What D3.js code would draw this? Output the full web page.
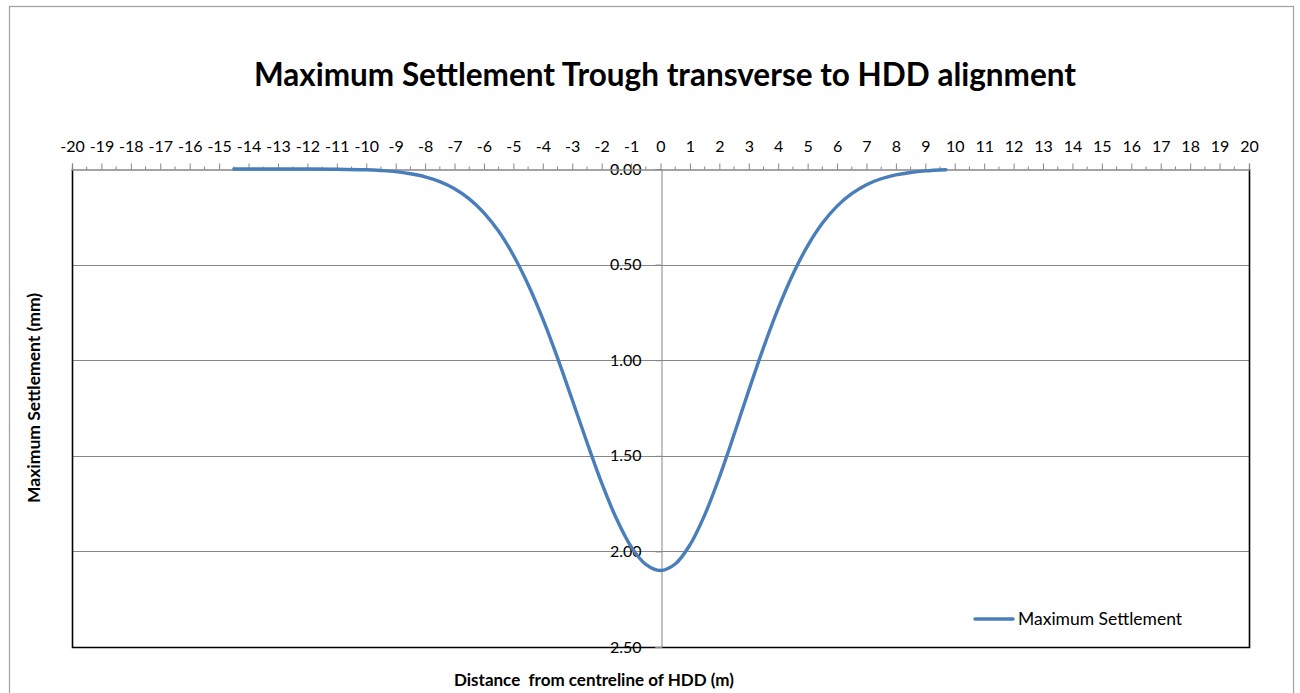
<!DOCTYPE html>
<html>
<head>
<meta charset="utf-8">
<script src="https://cdn.jsdelivr.net/npm/d3@7"></script>
<style>
  html, body { margin: 0; padding: 0; background: #ffffff; }
  svg { display: block; }
  text { font-family: Lato, "Open Sans", sans-serif; fill: #000; }
</style>
</head>
<body>
<svg id="chart" width="1300" height="693"></svg>
<script>
// ---- data ----
const distance = [-14.5, -13, -12, -11, -10, -9.5, -9, -8.5, -8, -7.5, -7, -6.5, -6, -5.5, -5, -4.5, -4, -3.5, -3, -2.5, -2, -1.5, -1, -0.5,
                  0, 0.5, 1, 1.5, 2, 2.5, 3, 3.5, 4, 4.5, 5, 5.5, 6, 6.5, 7, 7.5, 8, 8.5, 9, 9.7];
const settlement = [0.000, 0.000, 0.000, 0.001, 0.004, 0.008, 0.014, 0.025, 0.041, 0.066, 0.103, 0.156, 0.229, 0.326, 0.451, 0.604, 0.784, 0.988, 1.207, 1.429, 1.642, 1.828, 1.975, 2.068,
                    2.100, 2.066, 1.966, 1.810, 1.612, 1.389, 1.158, 0.934, 0.729, 0.550, 0.402, 0.284, 0.194, 0.129, 0.082, 0.051, 0.031, 0.018, 0.010, 0.004];
const xTicks = d3.range(-20, 21, 1);
const xMinorTicks = d3.range(-19.5, 20, 1);
const yTicks = [0, 0.5, 1.0, 1.5, 2.0, 2.5];
const seriesName = "Maximum Settlement";
const titleText = "Maximum Settlement Trough transverse to HDD alignment";
const xTitle = "Distance  from centreline of HDD (m)";
const yTitle = "Maximum Settlement (mm)";

const svg = d3.select("#chart");

// outer chart border
svg.append("rect")
  .attr("x", 9.5).attr("y", 6.5).attr("width", 1284).attr("height", 700)
  .attr("fill", "#fff").attr("stroke", "#a6a6a6").attr("stroke-width", 1.3);

const plot = { left: 72, right: 1249, top: 169, bottom: 647 };

const x = d3.scaleLinear().domain([-20, 20]).range([plot.left, plot.right]);
const y = d3.scaleLinear().domain([0, 2.5]).range([plot.top, plot.bottom]);

// title
svg.append("text")
  .attr("x", 665).attr("y", 86)
  .attr("text-anchor", "middle")
  .style("font-size", "31.5px").style("font-weight", "bold")
  .text(titleText);

// horizontal gridlines
svg.append("g").selectAll("line")
  .data(yTicks.filter(d => d > 0 && d < 2.5))
  .join("line")
  .attr("x1", plot.left).attr("x2", plot.right)
  .attr("y1", d => Math.round(y(d)) + 0.5).attr("y2", d => Math.round(y(d)) + 0.5)
  .attr("stroke", "#868686").attr("stroke-width", 1);

// plot area border (left, right, bottom dark)
svg.append("path")
  .attr("d", `M${plot.left + 0.5},${plot.top} V${plot.bottom + 0.5} H${plot.right + 0.5} V${plot.top}`)
  .attr("fill", "none").attr("stroke", "#000").attr("stroke-width", 1.6);

// y axis at x = 0
const yAxis = d3.axisLeft(y)
  .tickValues(yTicks)
  .tickFormat(d3.format(".2f"))
  .tickSize(6).tickPadding(14);
const gy = svg.append("g")
  .attr("transform", `translate(${Math.round(x(0)) + 0.5},0)`)
  .call(yAxis);
gy.select(".domain").attr("stroke", "#868686");
gy.selectAll(".tick line").attr("stroke", "#868686");
gy.selectAll(".tick text")
  .style("font-family", "Lato, sans-serif").style("font-size", "16px").attr("fill", "#000");

// top x axis
const xAxis = d3.axisTop(x)
  .tickValues(xTicks)
  .tickFormat(d3.format("d"))
  .tickSize(6).tickPadding(12);
const gx = svg.append("g")
  .attr("transform", `translate(0,${plot.top + 0.5})`)
  .call(xAxis);
gx.select(".domain").attr("stroke", "#868686").attr("stroke-width", 1.3);
gx.selectAll(".tick line").attr("stroke", "#868686");
gx.selectAll(".tick text")
  .style("font-family", "Lato, sans-serif").style("font-size", "16px").attr("fill", "#000")
  .text(d => d < 0 ? "-" + Math.abs(d) : d);
// minor ticks
gx.append("g").selectAll("line")
  .data(xMinorTicks)
  .join("line")
  .attr("x1", d => x(d)).attr("x2", d => x(d))
  .attr("y1", 0).attr("y2", -3)
  .attr("stroke", "#868686");

// series line
const line = d3.line()
  .x((d, i) => x(distance[i]))
  .y((d, i) => y(settlement[i]))
  .curve(d3.curveCatmullRom.alpha(0.5));
svg.append("path")
  .datum(settlement)
  .attr("d", line)
  .attr("fill", "none")
  .attr("stroke", "#4a7ebb")
  .attr("stroke-width", 3.4)
  .attr("stroke-linecap", "round");

// axis titles
svg.append("text")
  .attr("x", 594).attr("y", 686)
  .attr("text-anchor", "middle")
  .style("font-size", "17px").style("font-weight", "bold")
  .attr("xml:space", "preserve")
  .text(xTitle);

svg.append("text")
  .attr("transform", "translate(40,398) rotate(-90)")
  .attr("text-anchor", "middle")
  .style("font-size", "17.5px").style("font-weight", "bold")
  .text(yTitle);

// legend
const lg = svg.append("g");
lg.append("line")
  .attr("x1", 975).attr("x2", 1013).attr("y1", 619).attr("y2", 619)
  .attr("stroke", "#4a7ebb").attr("stroke-width", 3.4).attr("stroke-linecap", "round");
lg.append("text")
  .attr("x", 1018).attr("y", 625)
  .style("font-size", "17.5px")
  .text(seriesName);
</script>
</body>
</html>
